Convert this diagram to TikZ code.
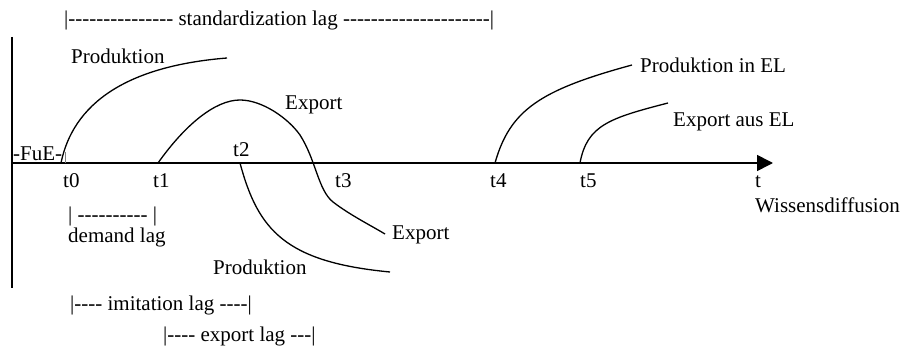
\documentclass[tikz,border=0pt]{standalone}
\usepackage{fontspec}
\setmainfont{Liberation Serif}
\usepackage{tikz}
\usetikzlibrary{arrows.meta}
\newcommand\dashrun[1]{\foreach \i in {1,...,#1}{-\kern0pt}}

\begin{document}
\begin{tikzpicture}[
    x=1pt, y=-1pt,
    lbl/.style={inner sep=0pt, anchor=base west, font=\fontsize{21}{25}\selectfont},
    axis/.style={line width=1.6pt, black},
    curve/.style={line width=1.3pt, black},
    arrow/.style={axis, -{Triangle[length=16pt, width=16pt]}}
]
    \useasboundingbox (0,0) rectangle (903,347);

    \coordinate (top) at (12,37);
    \coordinate (bottom) at (12,288);
    \coordinate (origin) at (12,163);
    \coordinate (tip) at (773,163);
    \coordinate (T0) at (61,163);
    \coordinate (T1) at (158,163);
    \coordinate (T2) at (240,163);
    \coordinate (T4) at (495,163);
    \coordinate (T5) at (580,163);
    \coordinate (FuEtick) at (65,152);

    \draw[axis] (top) -- (bottom);
    \draw[arrow] (origin) -- (tip);
    \draw[gray, line width=0.6pt] (FuEtick) -- (FuEtick |- origin);

    \node[lbl] (stdlag) at (64,26) {|\dashrun{15} standardization lag \dashrun{21}|};
    \node[lbl] (fue) at (13,161) {-FuE-};
    \node[lbl] (t0) at (63,188) {t0};
    \node[lbl] (t1) at (153,188) {t1};
    \node[lbl] (t2) at (233,157) {t2};
    \node[lbl] (t3) at (335,188) {t3};
    \node[lbl] (t4) at (490,188) {t4};
    \node[lbl] (t5) at (580,188) {t5};
    \node[lbl] (t) at (755,188) {t};
    \node[lbl] (wiss) at (755,213) {Wissensdiffusion};

    \node[lbl] (prod1) at (71,64) {Produktion};
    \node[lbl] (exp1) at (285,110) {Export};
    \node[lbl] (exp2) at (392,240) {Export};
    \node[lbl] (prod2) at (213,275) {Produktion};
    \node[lbl] (prodEL) at (640,73) {Produktion in EL};
    \node[lbl] (expEL) at (673,127) {Export aus EL};

    \node[lbl] (dbar) at (68,222) {| \dashrun{10} |};
    \node[lbl] (dlag) at (68,243) {demand lag};
    \node[lbl] (ilag) at (70,311) {|\dashrun{4} imitation lag \dashrun{4}|};
    \node[lbl] (elag) at (163,342) {|\dashrun{4} export lag \dashrun{3}|};

    \coordinate (P1end) at (227,58);
    \coordinate (E1end) at (385,234);
    \coordinate (P2end) at (390,272);
    \coordinate (PELend) at (632,65);
    \coordinate (EELend) at (668,103);

    \draw[curve] (T0) .. controls (75,95) and (140,65) .. (P1end);
    \draw[curve] (T1) .. controls (185,125) and (215,100) .. (240,100)
        .. controls (262,100) and (288,118) .. (300,135)
        .. controls (316,160) and (318,190) .. (333,202)
        .. controls (350,215) and (370,225) .. (E1end);
    \draw[curve] (T2) .. controls (258,230) and (285,262) .. (P2end);
    \draw[curve] (T4) .. controls (510,110) and (540,90) .. (PELend);
    \draw[curve] (T5) .. controls (587,125) and (610,118) .. (EELend);
\end{tikzpicture}
\end{document}
